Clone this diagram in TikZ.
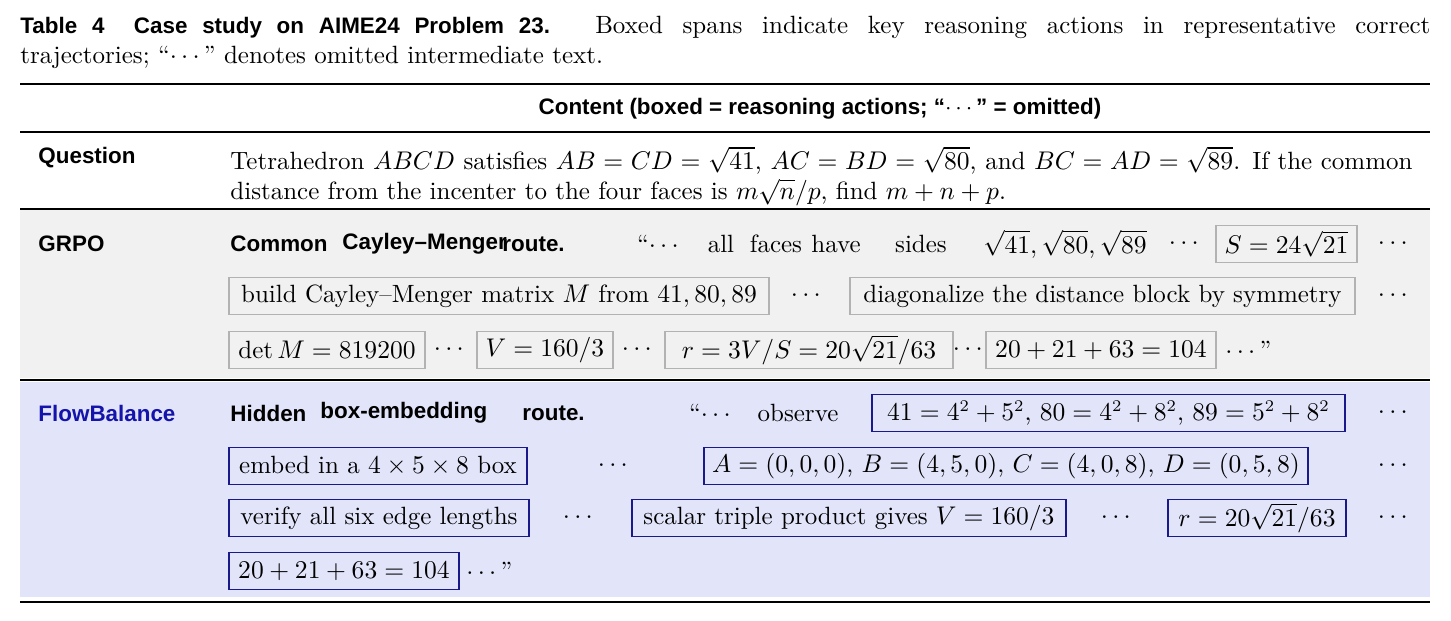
\documentclass[tikz,border=0pt]{standalone}
\usepackage{fontspec}
\setsansfont{Liberation Sans}
\usepackage{amsmath}
\definecolor{grpobg}{RGB}{241,241,241}
\definecolor{flowbg}{RGB}{226,228,250}
\definecolor{flowblue}{RGB}{25,25,140}
\definecolor{flowname}{RGB}{20,20,170}
\newcommand{\hdfont}{\fontsize{9.6}{11.5}\selectfont\sffamily\bfseries}
\tikzset{
  txt/.style={inner sep=0pt, anchor=west},
  dots/.style={inner sep=0pt},
  gbox/.style={draw=gray!60, line width=0.6pt, minimum height=0.56cm, inner sep=0pt},
  fbox/.style={draw=flowblue, line width=0.6pt, minimum height=0.56cm, inner sep=0pt},
  rowname/.style={inner sep=0pt, anchor=west, font=\hdfont},
}
% box from x1 to x2 (px) at height y
\newcommand{\spanbox}[6]{\node[#1, minimum width={(#4-#3)*0.01506cm}] (#2) at ({(#3+#4)/2},#5) {#6};}
\begin{document}
\fontsize{10.7}{12.6}\selectfont
\begin{tikzpicture}[x=0.01506cm,y=-0.01506cm]
\useasboundingbox (0,0) rectangle (1451,621);

%caption
\node[inner sep=0pt, anchor=north west, text width=1410*0.01506cm, align=justify] (caption) at (20,16)
  {{\hdfont Table 4\ \ Case study on AIME24 Problem 23.} Boxed spans indicate key reasoning actions in representative correct\linebreak trajectories; ``$\cdots$'' denotes omitted intermediate text.};

%backgrounds
\fill[grpobg] (20,210) rectangle (1430,378);
\fill[flowbg] (20,382) rectangle (1430,597);

%rules
\draw[line width=1.1pt] (20,84) -- (1430,84);
\draw[line width=0.5pt] (20,132) -- (1430,132);
\draw[line width=0.9pt] (20,209) -- (1430,209);
\draw[line width=0.9pt] (20,380) -- (1430,380);
\draw[line width=1.1pt] (20,602) -- (1430,602);

\node[inner sep=0pt, font=\hdfont] (head) at (820,109) {Content (boxed = reasoning actions; ``$\cdots$'' = omitted)};

%question
\node[rowname] (qname) at (38,158) {Question};
\node[inner sep=0pt, anchor=north west, text width=1182*0.01506cm, align=justify] (qtext) at (230,146)
  {Tetrahedron $ABCD$ satisfies $AB=CD=\sqrt{41}$, $AC=BD=\sqrt{80}$, and $BC=AD=\sqrt{89}$. If the common distance from the incenter to the four faces is $m\sqrt{n}/p$, find $m+n+p$.};

%GRPO
\node[rowname] (gname) at (38,244) {GRPO};
\node[rowname] (groute1) at (230,244) {Common};
\node[rowname] (groute2) at (342,244) {Cayley--Menger};
\node[rowname] (groute3) at (502,244) {route.};
\node[dots] (g1a) at (660,244) {``$\cdots$};
\node[dots] (g1b) at (721,244) {all};
\node[dots] (g1c) at (776,244) {faces};
\node[dots] (g1d) at (836,244) {have};
\node[dots] (g1e) at (921,244) {sides};
\node[dots] (g1f) at (1065,244) {$\sqrt{41},\sqrt{80},\sqrt{89}$};
\node[dots] (g1g) at (1186,244) {$\cdots$};
\spanbox{gbox}{gS}{1216}{1357}{244}{$S=24\sqrt{21}$}
\node[dots] (g1h) at (1395,244) {$\cdots$};

\spanbox{gbox}{gcm}{229}{769}{296}{build Cayley--Menger matrix $M$ from $41,80,89$}
\node[dots] (g2a) at (808,296) {$\cdots$};
\spanbox{gbox}{gdiag}{850}{1355}{296}{diagonalize the distance block by symmetry}
\node[dots] (g2b) at (1395,296) {$\cdots$};

\spanbox{gbox}{gdet}{229}{425}{350}{$\det M=819200$}
\node[dots] (g3a) at (451,350) {$\cdots$};
\spanbox{gbox}{gV}{477}{613}{350}{$V=160/3$}
\node[dots] (g3b) at (639,350) {$\cdots$};
\spanbox{gbox}{gr}{665}{953}{350}{$r=3V/S=20\sqrt{21}/63$}
\node[dots] (g3c) at (970,350) {$\cdots$};
\spanbox{gbox}{gsum}{986}{1216}{350}{$20+21+63=104$}
\node[txt] (g3d) at (1225,350) {$\cdots$''};

%FlowBalance
\node[rowname, text=flowname] (fname) at (38,413) {FlowBalance};
\node[rowname] (froute1) at (230,413) {Hidden};
\node[rowname] (froute2) at (320,413) {box-embedding};
\node[rowname] (froute3) at (522,413) {route.};
\node[dots] (f1a) at (712,413) {``$\cdots$};
\node[dots] (f1b) at (798,413) {observe};
\spanbox{fbox}{fsq}{872}{1345}{413}{$41=4^2+5^2$, $80=4^2+8^2$, $89=5^2+8^2$}
\node[dots] (f1c) at (1395,413) {$\cdots$};

\spanbox{fbox}{femb}{229}{527}{466}{embed in a $4\times5\times8$ box}
\node[dots] (f2a) at (615,466) {$\cdots$};
\spanbox{fbox}{fcoord}{704}{1308}{466}{$A=(0,0,0)$, $B=(4,5,0)$, $C=(4,0,8)$, $D=(0,5,8)$}
\node[dots] (f2b) at (1395,466) {$\cdots$};

\spanbox{fbox}{fver}{229}{529}{518}{verify all six edge lengths}
\node[dots] (f3a) at (580,518) {$\cdots$};
\spanbox{fbox}{ftrip}{632}{1066}{518}{scalar triple product gives $V=160/3$}
\node[dots] (f3b) at (1118,518) {$\cdots$};
\spanbox{fbox}{fr}{1168}{1346}{518}{$r=20\sqrt{21}/63$}
\node[dots] (f3c) at (1395,518) {$\cdots$};

\spanbox{fbox}{fsum}{229}{459}{571}{$20+21+63=104$}
\node[txt] (f4a) at (466,571) {$\cdots$''};

\end{tikzpicture}
\end{document}
